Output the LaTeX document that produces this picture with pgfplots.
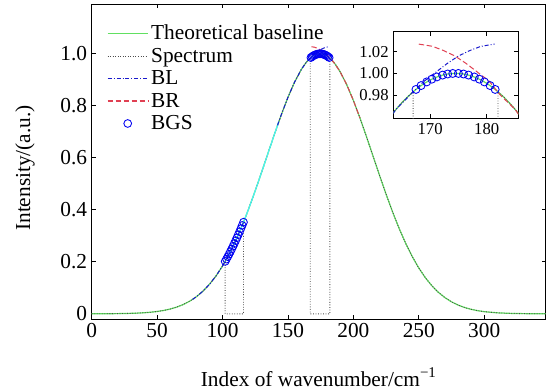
\documentclass[border=0pt]{standalone}
\usepackage{fontspec}
\setmainfont{Liberation Serif}
\usepackage{pgfplots}
\pgfplotsset{compat=1.18}
\usepackage{pgfplotstable}
\definecolor{basegreen}{rgb}{0.38,0.88,0.38}
\definecolor{specgray}{rgb}{0.3,0.3,0.3}
\definecolor{blcol}{rgb}{0.1,0.1,0.8}
\definecolor{brcol}{rgb}{0.88,0.25,0.32}
\definecolor{cyancol}{rgb}{0.3,0.95,0.95}
\definecolor{bgscol}{rgb}{0,0,0.95}

\pgfplotstableread{
x base spec
0 0.00010 0.00010
10 0.00026 0.00026
20 0.00069 0.00069
30 0.00172 0.00172
35 0.00265 0.00265
40 0.00403 0.00403
45 0.00602 0.00602
50 0.00886 0.00886
55 0.01285 0.01285
60 0.01837 0.01837
65 0.02585 0.02585
70 0.03582 0.03582
75 0.04888 0.04888
80 0.06570 0.06570
85 0.08697 0.08697
90 0.11340 0.11340
95 0.14558 0.14558
100 0.18411 0.18411
101 0.19264 0.19264
102 0.20137 0.20137
102 0.20137 0
103 0.21043 0
104 0.21975 0
105 0.22934 0
106 0.23918 0
107 0.24929 0
108 0.25972 0
109 0.27035 0
110 0.28130 0
111 0.29248 0
112 0.30397 0
113 0.31565 0
114 0.32763 0
115 0.33983 0
116 0.35225 0
116 0.35225 0.35225
117 0.36497 0.36497
118 0.37786 0.37786
120 0.40431 0.40431
125 0.47377 0.47377
130 0.54678 0.54678
135 0.62142 0.62142
140 0.69568 0.69568
145 0.76700 0.76700
150 0.83277 0.83277
155 0.89055 0.89055
160 0.93791 0.93791
161 0.94595 0.94595
162 0.95348 0.95348
163 0.96048 0.96048
164 0.96694 0.96694
165 0.97286 0.97286
166 0.97821 0.97821
167 0.98300 0.98300
167 0.98300 0
168 0.98720 0
169 0.99082 0
170 0.99385 0
171 0.99627 0
172 0.99810 0
173 0.99931 0
174 0.99992 0
175 0.99992 0
176 0.99931 0
177 0.99810 0
178 0.99627 0
179 0.99385 0
180 0.99082 0
181 0.98720 0
182 0.98300 0
182 0.98300 0.98300
183 0.97821 0.97821
184 0.97286 0.97286
185 0.96694 0.96694
186 0.96048 0.96048
187 0.95348 0.95348
188 0.94595 0.94595
189 0.93791 0.93791
190 0.92937 0.92937
195 0.87975 0.87975
200 0.82018 0.82018
205 0.75307 0.75307
210 0.68104 0.68104
215 0.60647 0.60647
220 0.53199 0.53199
225 0.45954 0.45954
230 0.39096 0.39096
235 0.32763 0.32763
240 0.27035 0.27035
245 0.21975 0.21975
250 0.17589 0.17589
255 0.13866 0.13866
260 0.10768 0.10768
265 0.08233 0.08233
270 0.06199 0.06199
275 0.04600 0.04600
280 0.03360 0.03360
285 0.02416 0.02416
290 0.01713 0.01713
295 0.01195 0.01195
300 0.00822 0.00822
310 0.00371 0.00371
320 0.00157 0.00157
330 0.00063 0.00063
340 0.00024 0.00024
347 0.00011 0.00011
}\maindata

\pgfplotstableread{
x y
77 0.05513
80 0.06570
85 0.08697
90 0.11340
95 0.14558
100 0.18411
105 0.22934
110 0.28130
116 0.35225
}\blone

\pgfplotstableread{
x y
142 0.72470
145 0.76700
150 0.83277
155 0.89055
160 0.93791
164 0.96694
167 0.98300
169 0.99300
171 1.00100
173 1.00900
175 1.01600
177 1.02100
179 1.02500
181.4 1.02700
}\bltwo

\pgfplotstableread{
x y
168 1.02700
170.4 1.02500
172.4 1.02100
174.4 1.01600
176.4 1.00900
178.4 1.00100
180.4 0.99300
182.4 0.98000
185 0.96694
190 0.92937
195 0.87975
200 0.82018
205 0.75307
}\brdata

\pgfplotstableread{
x y
104 0.21975
105 0.22934
110 0.28130
115 0.33983
120 0.40431
125 0.47377
130 0.54678
135 0.62142
140 0.69568
143 0.73897
}\cyandata

\pgfplotstableread{
x y
102 0.20137
103 0.21043
104 0.21975
105 0.22934
106 0.23918
107 0.24929
108 0.25972
109 0.27035
110 0.28130
111 0.29248
112 0.30397
113 0.31565
114 0.32763
115 0.33983
116 0.35225
167.5 0.98517
168.4 0.98872
169.4 0.99210
170.3 0.99464
171.2 0.99669
172.2 0.99839
173.1 0.99940
174.0 0.99992
175.0 0.99992
175.9 0.99940
176.8 0.99839
177.8 0.99669
178.7 0.99464
179.6 0.99210
180.6 0.98872
181.5 0.98517
}\bgsdata

\begin{document}
\begin{tikzpicture}
\pgfplotsset{
  every axis/.append style={
    /pgf/number format/assume math mode=true,
    tick align=inside,
    major tick length=3pt,
    tick style={black, line width=0.5pt},
    axis line style={line width=0.6pt},
  },
  legend image code/.code={\draw[mark repeat=2,mark phase=2,#1] plot coordinates {(0cm,0cm) (0.53cm,0cm) (1.06cm,0cm)};},
}
\begin{axis}[
  name=main,
  at={(0,0)}, anchor=south west,
  scale only axis,
  width=340.5pt, height=236pt,
  xmin=0, xmax=347, ymin=-0.02, ymax=1.19,
  xtick={0,50,100,150,200,250,300},
  ytick={0,0.2,0.4,0.6,0.8,1.0},
  yticklabels={0,0.2,0.4,0.6,0.8,1.0},
  tick label style={font=\fontsize{16}{19}\selectfont},
  xlabel={Index of wavenumber/cm\textsuperscript{−1}},
  ylabel={Intensity/(a.u.)},
  every axis x label/.style={at={(axis description cs:0.5,-0.185)}, anchor=center, font=\fontsize{16}{19}\selectfont},
  every axis y label/.style={at={(axis description cs:-0.147,0.48)}, rotate=90, anchor=center, font=\fontsize{16}{19}\selectfont},
  legend style={at={(0.03,0.948)}, anchor=north west, draw=none, fill=none,
    font=\fontsize{16}{19}\selectfont, row sep=0.8pt, inner sep=1pt},
  legend cell align=left,
  legend image post style={line width=1pt},
]
\addplot[basegreen, line width=0.9pt] table[x=x, y=base] {\maindata};
\addlegendentry{Theoretical baseline}
\addplot[specgray, line width=0.7pt, dash pattern=on 0.6pt off 1.3pt] table[x=x, y=spec] {\maindata};
\addlegendentry{Spectrum}
\addplot[cyancol, line width=0.9pt, forget plot] table {\cyandata};
\addplot[blcol, line width=0.75pt, dash pattern=on 3pt off 1.5pt on 0.7pt off 1.5pt] table {\blone};
\addlegendentry{BL}
\addplot[blcol, line width=0.75pt, dash pattern=on 3pt off 1.5pt on 0.7pt off 1.5pt, forget plot] table {\bltwo};
\addplot[brcol, line width=0.75pt, dash pattern=on 4pt off 2pt] table {\brdata};
\addlegendentry{BR}
\addplot[bgscol, only marks, mark=o, mark size=2.9pt, mark options={line width=0.65pt}] table {\bgsdata};
\addlegendentry{BGS}
\end{axis}

\begin{axis}[
  at={(226.2pt,150.5pt)}, anchor=south west,
  scale only axis,
  width=93.75pt, height=65pt,
  xmin=163.5, xmax=185.6, ymin=0.9585, ymax=1.0385,
  xtick={170,180},
  ytick={0.98,1.00,1.02},
  yticklabels={0.98,1.00,1.02},
  tick label style={font=\fontsize{12.5}{14}\selectfont},
  axis background/.style={fill=white},
  clip=true,
]
\addplot[basegreen, line width=0.9pt] table[x=x, y=base] {\maindata};
\addplot[specgray, line width=0.7pt, dash pattern=on 0.6pt off 1.3pt] table[x=x, y=spec] {\maindata};
\addplot[blcol, line width=0.75pt, dash pattern=on 3pt off 1.5pt on 0.7pt off 1.5pt] table {\bltwo};
\addplot[brcol, line width=0.75pt, dash pattern=on 4pt off 2pt] table {\brdata};
\addplot[bgscol, only marks, mark=o, mark size=3pt, mark options={line width=0.65pt}] table {\bgsdata};
\end{axis}
\pgfresetboundingbox
\useasboundingbox (-68.8pt,-54.75pt) rectangle (340.7pt,239.25pt);
\end{tikzpicture}
\end{document}
